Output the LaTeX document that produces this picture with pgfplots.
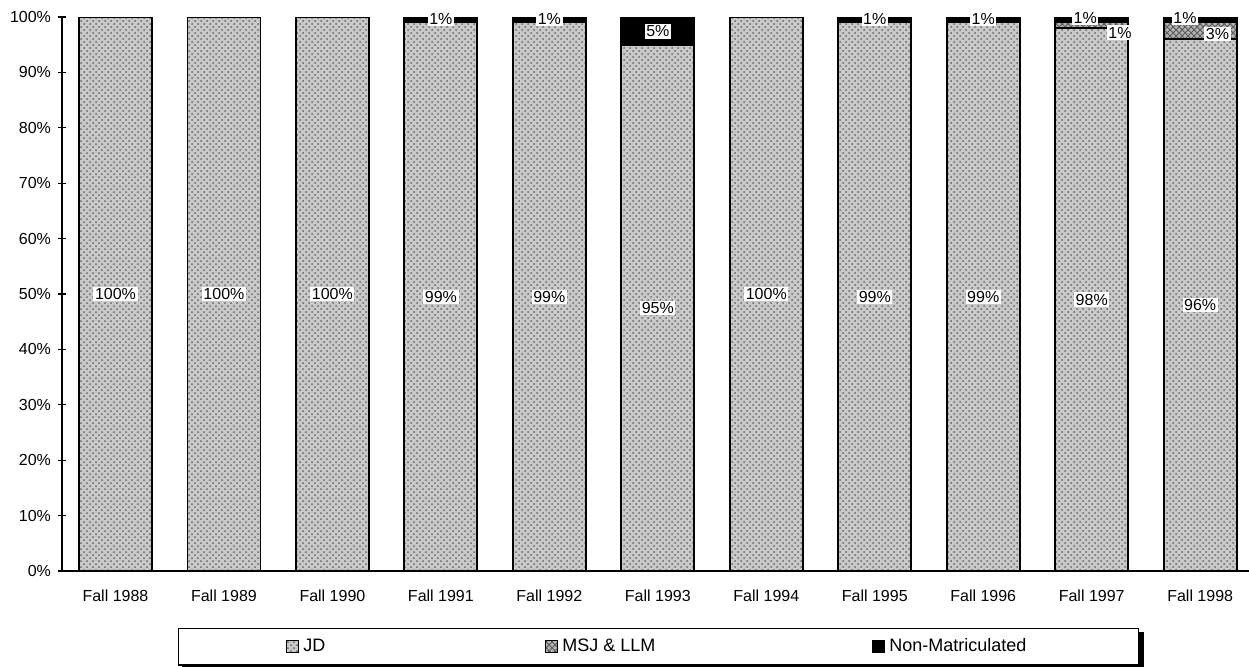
\documentclass[border=0pt]{standalone}
\usepackage{pgfplots}
\pgfplotsset{compat=1.18}
\usepackage{pgfplotstable}
\usepackage{fontspec}
\setmainfont{Liberation Sans}
\usetikzlibrary{patterns}

\pgfplotstableread{
x jd msj nm
0 100 0 0
1 100 0 0
2 100 0 0
3 99 0 1
4 99 0 1
5 95 0 5
6 100 0 0
7 99 0 1
8 99 0 1
9 98 1 1
10 96 3 1
}\datatable

\pgfplotstableread{
x y lab
0 50 100
1 50 100
2 50 100
3 49.5 99
4 49.5 99
5 47.5 95
6 50 100
7 49.5 99
8 49.5 99
9 49 98
10 48 96
3 99.6 1
4 99.6 1
5 97.4 5
7 99.6 1
8 99.6 1
8.94 99.9 1
9.26 97.2 1
9.86 99.9 1
10.16 96.9 3
}\labtable

\begin{document}
\begin{tikzpicture}
\begin{axis}[
  at={(0,0)}, anchor=south west,
  width=593.5pt, height=277pt, scale only axis,
  ybar stacked, bar width=0.673,
  xmin=-0.493, xmax=10.45, ymin=0, ymax=100,
  axis x line*=bottom, axis y line*=left,
  axis line style={black, line width=0.6pt},
  xtick={0,...,10},
  xticklabels={Fall 1988,Fall 1989,Fall 1990,Fall 1991,Fall 1992,Fall 1993,Fall 1994,Fall 1995,Fall 1996,Fall 1997,Fall 1998},
  x tick style={draw=none},
  extra x ticks={0.5,1.5,...,9.5},
  extra x tick labels={},
  extra x tick style={tick style={draw=black, line width=0.6pt}, major tick length=4pt, tick align=center},
  ytick={0,10,...,100},
  yticklabel={\pgfmathprintnumber{\tick}\%},
  y tick style={black, line width=0.6pt},
  tick align=center, major tick length=4pt,
  ticklabel style={font=\fontsize{8}{9}\selectfont},
  xticklabel style={yshift=-4pt},
  /pgf/number format/assume math mode=true,
  legend columns=3,
  legend style={name=leg, at={(0.5025,-0.137)}, anchor=center, draw=black, line width=0.6pt, fill=white,
    font=\fontsize{9}{10}\selectfont, inner xsep=54pt, inner ysep=3pt},
  legend image code/.code={\draw[#1, line width=0.5pt] (0pt,-3pt) rectangle (6pt,3pt);},
]
\addplot[draw=black, line width=0.9pt, fill=gray!42,
  postaction={pattern=crosshatch dots, pattern color=black!60}]
  table[x=x, y=jd]{\datatable};
\addlegendentry{\makebox[119pt][l]{JD}}
\addplot[draw=black, line width=0.9pt, fill=gray!60,
  postaction={pattern=crosshatch, pattern color=black!65}]
  table[x=x, y=msj]{\datatable};
\addlegendentry{\makebox[153pt][l]{MSJ \& LLM}}
\addplot[draw=black, line width=0.9pt, fill=black]
  table[x=x, y=nm]{\datatable};
\addlegendentry{Non-Matriculated}
\end{axis}
\fill[black] ([xshift=2pt,yshift=-2.2pt]leg.south west) rectangle ([xshift=2.2pt]leg.south east);
\fill[black] ([yshift=-2pt]leg.north east) rectangle ([xshift=2.2pt,yshift=-2.2pt]leg.south east);
\begin{axis}[
  at={(0,0)}, anchor=south west,
  width=593.5pt, height=277pt, scale only axis,
  xmin=-0.493, xmax=10.45, ymin=0, ymax=100,
  hide axis, clip=false,
]
\addplot[only marks, mark=none, point meta=explicit symbolic,
  nodes near coords={\pgfplotspointmeta\%},
  nodes near coords style={anchor=center, fill=white, inner sep=0.8pt, text=black, font=\fontsize{8}{9}\selectfont}]
  table[x=x, y=y, meta=lab]{\labtable};
\end{axis}
\pgfresetboundingbox
\path (-31pt,-47.5pt) rectangle (593.5pt,285.5pt);
\end{tikzpicture}
\end{document}
